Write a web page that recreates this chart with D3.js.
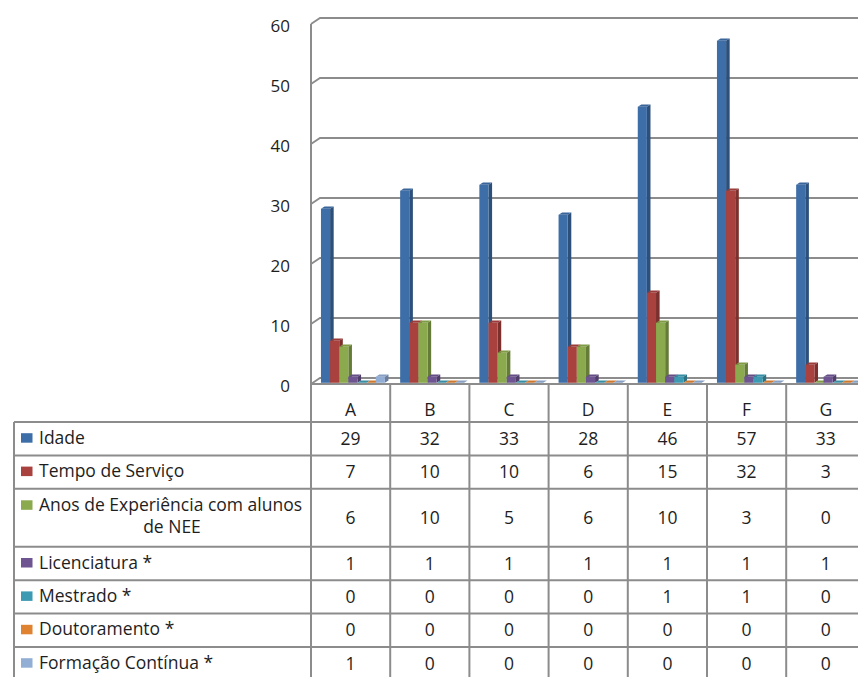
<!DOCTYPE html>
<html>
<head>
<meta charset="utf-8">
<script src="https://cdn.jsdelivr.net/npm/d3@7"></script>
<style>
  body { margin: 0; background: #fff; }
  svg { display: block; font-family: "Open Sans", sans-serif; }
</style>
</head>
<body>
<svg id="chart" width="858" height="677"></svg>
<script>
var categories = ["A", "B", "C", "D", "E", "F", "G"];
var seriesNames = ["Idade", "Tempo de Serviço", "Anos de Experiência com alunos de NEE",
  "Licenciatura *", "Mestrado *", "Doutoramento *", "Formação Contínua *"];
var idade = [29, 32, 33, 28, 46, 57, 33];
var tempoServico = [7, 10, 10, 6, 15, 32, 3];
var anosExperiencia = [6, 10, 5, 6, 10, 3, 0];
var licenciatura = [1, 1, 1, 1, 1, 1, 1];
var mestrado = [0, 0, 0, 0, 1, 1, 0];
var doutoramento = [0, 0, 0, 0, 0, 0, 0];
var formacaoContinua = [1, 0, 0, 0, 0, 0, 0];
var yTicks = [0, 10, 20, 30, 40, 50, 60];

var seriesValues = [idade, tempoServico, anosExperiencia, licenciatura, mestrado, doutoramento, formacaoContinua];
var colors = ["#3E6EA8", "#A9423F", "#8BA94D", "#6E5592", "#3C9BB3", "#E08331", "#92AED5"];

var width = 858, height = 677;
var plotLeft = 311, catWidth = 79.2;
var depthX = 9, depthY = -6;       // floor / wall depth
var f0 = 0.2, f1 = 0.6;            // bar front and back inside the depth
var gridColor = "#8C8C8C";
var textColor = "#1e1e1e";

var svg = d3.select("#chart");

var x0 = d3.scaleBand()
  .domain(categories)
  .range([plotLeft, plotLeft + catWidth * categories.length]);
var x1 = d3.scaleBand()
  .domain(d3.range(seriesNames.length))
  .range([catWidth * 0.103, catWidth * 0.91]);
var y = d3.scaleLinear().domain([0, 60]).range([384, 24]);

// back wall gridlines with the little slanted joins on the left
var grid = svg.append("g");
yTicks.forEach(function(t) {
  grid.append("polyline")
    .attr("points", [[plotLeft, y(t)], [plotLeft + depthX, y(t) + depthY], [width + 10, y(t) + depthY]].join(" "))
    .attr("fill", "none")
    .attr("stroke", gridColor)
    .attr("stroke-width", 1.8);
});

// y axis labels
svg.append("g")
  .attr("transform", "translate(" + plotLeft + ",2)")
  .call(d3.axisLeft(y).tickValues(yTicks).tickSize(0).tickPadding(21))
  .call(function(g) { g.select(".domain").remove(); })
  .selectAll("text")
  .style("font-family", "'Open Sans', sans-serif")
  .style("font-size", "17px")
  .attr("fill", textColor);

// 3d bars
var dX = (f1 - f0) * depthX, dY = (f1 - f0) * depthY;
var bars = svg.append("g");
categories.forEach(function(cat, c) {
  seriesValues.forEach(function(vals, i) {
    var v = vals[c];
    var col = d3.color(colors[i]);
    var fx = x0(cat) + x1(i) + f0 * depthX;
    var bw = x1.bandwidth();
    var yt = y(v) + f0 * depthY;
    var yb = y(0) + f0 * depthY;
    bars.append("polygon")
      .attr("points", [[fx + bw, yt], [fx + bw + dX, yt + dY], [fx + bw + dX, yb + dY], [fx + bw, yb]].join(" "))
      .attr("fill", col.darker(0.9));
    bars.append("rect")
      .attr("x", fx).attr("y", yt)
      .attr("width", bw).attr("height", Math.max(0, yb - yt))
      .attr("fill", col);
    bars.append("polygon")
      .attr("points", [[fx, yt], [fx + dX, yt + dY], [fx + bw + dX, yt + dY], [fx + bw, yt]].join(" "))
      .attr("fill", col.darker(0.25));
  });
});

// data table
var table = svg.append("g");
var legendLeft = 14, headerTop = 384, headerBottom = 422;
var lineH = 24.6, rowH = 33.4, fontSize = 17.5;

function wrapWords(text, maxW) {
  var probe = svg.append("text").style("font-size", fontSize + "px");
  var words = text.split(" "), lines = [], cur = "";
  words.forEach(function(w) {
    var test = cur ? cur + " " + w : w;
    probe.text(test);
    if (probe.node().getComputedTextLength() > maxW && cur) {
      lines.push(cur);
      cur = w;
    } else {
      cur = test;
    }
  });
  lines.push(cur);
  probe.remove();
  return lines;
}

var rows = [];
var rowTop = headerBottom;
seriesNames.forEach(function(name, i) {
  var lines = wrapWords(name, 270);
  var h = rowH + (lines.length - 1) * lineH;
  rows.push({ name: name, lines: lines, top: rowTop, h: h, i: i });
  rowTop += h;
});

// category header
categories.forEach(function(cat) {
  table.append("text")
    .attr("x", x0(cat) + x0.bandwidth() / 2)
    .attr("y", 416)
    .attr("text-anchor", "middle")
    .style("font-size", fontSize + "px")
    .attr("fill", textColor)
    .text(cat);
});

rows.forEach(function(r) {
  var cy = r.top + r.h / 2;
  var firstY = r.lines.length > 1 ? r.top + 22 : cy + 5;
  table.append("rect")
    .attr("x", 21).attr("y", firstY - 10.5)
    .attr("width", 11.5).attr("height", 9.5)
    .attr("fill", colors[r.i]);
  r.lines.forEach(function(l, k) {
    table.append("text")
      .attr("x", k === 0 ? 39 : 172)
      .attr("y", firstY + k * 22)
      .attr("text-anchor", k === 0 ? "start" : "middle")
      .style("font-size", fontSize + "px")
      .attr("fill", textColor)
      .text(l);
  });
  categories.forEach(function(cat, c) {
    table.append("text")
      .attr("x", x0(cat) + x0.bandwidth() / 2)
      .attr("y", cy + 6)
      .attr("text-anchor", "middle")
      .style("font-size", fontSize + "px")
      .attr("fill", textColor)
      .text(seriesValues[r.i][c]);
  });
});

// table lines
table.append("line")
  .attr("x1", plotLeft).attr("x2", width).attr("y1", headerTop).attr("y2", headerTop)
  .attr("stroke", gridColor).attr("stroke-width", 2);
rows.forEach(function(r) {
  table.append("line")
    .attr("x1", legendLeft).attr("x2", width).attr("y1", r.top).attr("y2", r.top)
    .attr("stroke", gridColor).attr("stroke-width", 2);
});
table.append("line")
  .attr("x1", legendLeft).attr("x2", legendLeft).attr("y1", headerBottom).attr("y2", height)
  .attr("stroke", gridColor).attr("stroke-width", 2);
table.append("line")
  .attr("x1", plotLeft).attr("x2", plotLeft).attr("y1", y(60)).attr("y2", height)
  .attr("stroke", gridColor).attr("stroke-width", 2);
categories.forEach(function(cat) {
  table.append("line")
    .attr("x1", x0(cat) + x0.bandwidth()).attr("x2", x0(cat) + x0.bandwidth())
    .attr("y1", headerTop).attr("y2", height)
    .attr("stroke", gridColor).attr("stroke-width", 2);
});
</script>
</body>
</html>
